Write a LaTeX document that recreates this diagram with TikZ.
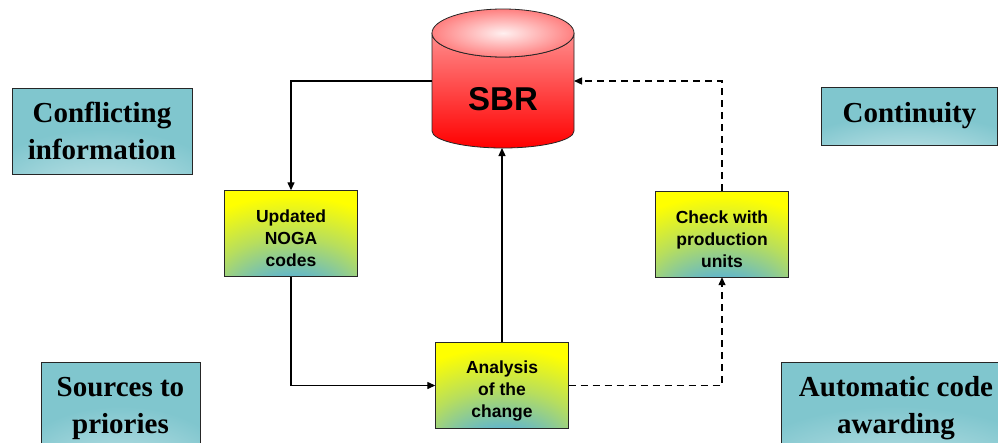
\documentclass[tikz,border=0pt]{standalone}
\usepackage{fontspec}
\setmainfont{Liberation Serif}
\setsansfont{Liberation Sans}
\usetikzlibrary{arrows.meta}

\definecolor{boxteal}{RGB}{128,198,206}
\definecolor{tealspot}{RGB}{222,244,244}
\definecolor{boxyellow}{RGB}{255,255,0}
\definecolor{yellowspot}{RGB}{96,182,206}

\pgfdeclareradialshading{tealglow}{\pgfpoint{0bp}{-50bp}}{color(0bp)=(tealspot); color(14bp)=(boxteal!60!white); color(34bp)=(boxteal); color(100bp)=(boxteal)}
\pgfdeclareradialshading{yellowglow}{\pgfpoint{0bp}{-50bp}}{color(0bp)=(yellowspot); color(16bp)=(yellowspot); color(32bp)=(yellowspot!45!boxyellow); color(48bp)=(boxyellow); color(100bp)=(boxyellow)}

\newcommand\steplift{\rule{0pt}{23pt}}

\tikzset{
  infobox/.style={draw=black!85, shade, shading=tealglow, align=center, inner sep=0pt,
    font=\bfseries\fontsize{29}{37}\selectfont},
  stepbox/.style={draw=black!85, shade, shading=yellowglow, align=center, inner sep=0pt,
    minimum width=133pt, minimum height=86pt, font=\sffamily\bfseries\fontsize{17.5}{22}\selectfont},
  flow/.style={line width=1.3pt, -{Triangle[length=8pt,width=7pt]}},
  flowdash/.style={flow, dash pattern=on 7pt off 5pt}
}

\begin{document}
\begin{tikzpicture}[x=1pt, y=-1pt]
\clip (0,0) rectangle (998,442);
\fill[white] (0,0) rectangle (998,442);

\shade[top color=red!45, bottom color=red, draw=black!85, line width=0.8pt]
  (432,33) -- (432,131) arc[start angle=180, end angle=360, x radius=71pt, y radius=17pt]
  -- (574,33) arc[start angle=0, end angle=-180, x radius=71pt, y radius=24pt] -- cycle;
\shade[inner color=red!6, outer color=red!50, draw=black!85, line width=0.8pt]
  (503,33) ellipse[x radius=71pt, y radius=24pt];
\node[font=\sffamily\bfseries\fontsize{33}{40}\selectfont] (sbr) at (503,99) {SBR};
\coordinate (sbrleft) at (432,81);
\coordinate (sbrright) at (574,81);
\coordinate (sbrbottom) at (503,148);

\node[infobox, minimum width=180pt, minimum height=86pt] (conflict) at (102,131) {Conflicting\\information};
\node[infobox, minimum width=176pt, minimum height=58pt] (continuity) at (909.5,116) {Continuity};
\node[infobox, minimum width=159pt, minimum height=92pt] (sources) at (120.5,408) {Sources to\\priories};
\node[infobox, minimum width=230pt, minimum height=92pt] (automatic) at (896,408) {Automatic code\\awarding};

\node[stepbox] (updated) at (291,233.5) {\steplift Updated\\NOGA\\codes};
\node[stepbox] (check) at (722,234) {\steplift Check with\\production\\units};
\node[stepbox] (analysis) at (502,385.5) {\steplift Analysis\\of the\\change};

\draw[flow] (sbrleft) -| (updated);
\draw[flow] (updated) |- (analysis);
\draw[flow] (analysis.north) -- (analysis.north |- sbrbottom);
\draw[flowdash] (analysis) -| (check);
\draw[flowdash] (check) |- (sbrright);
\end{tikzpicture}
\end{document}
